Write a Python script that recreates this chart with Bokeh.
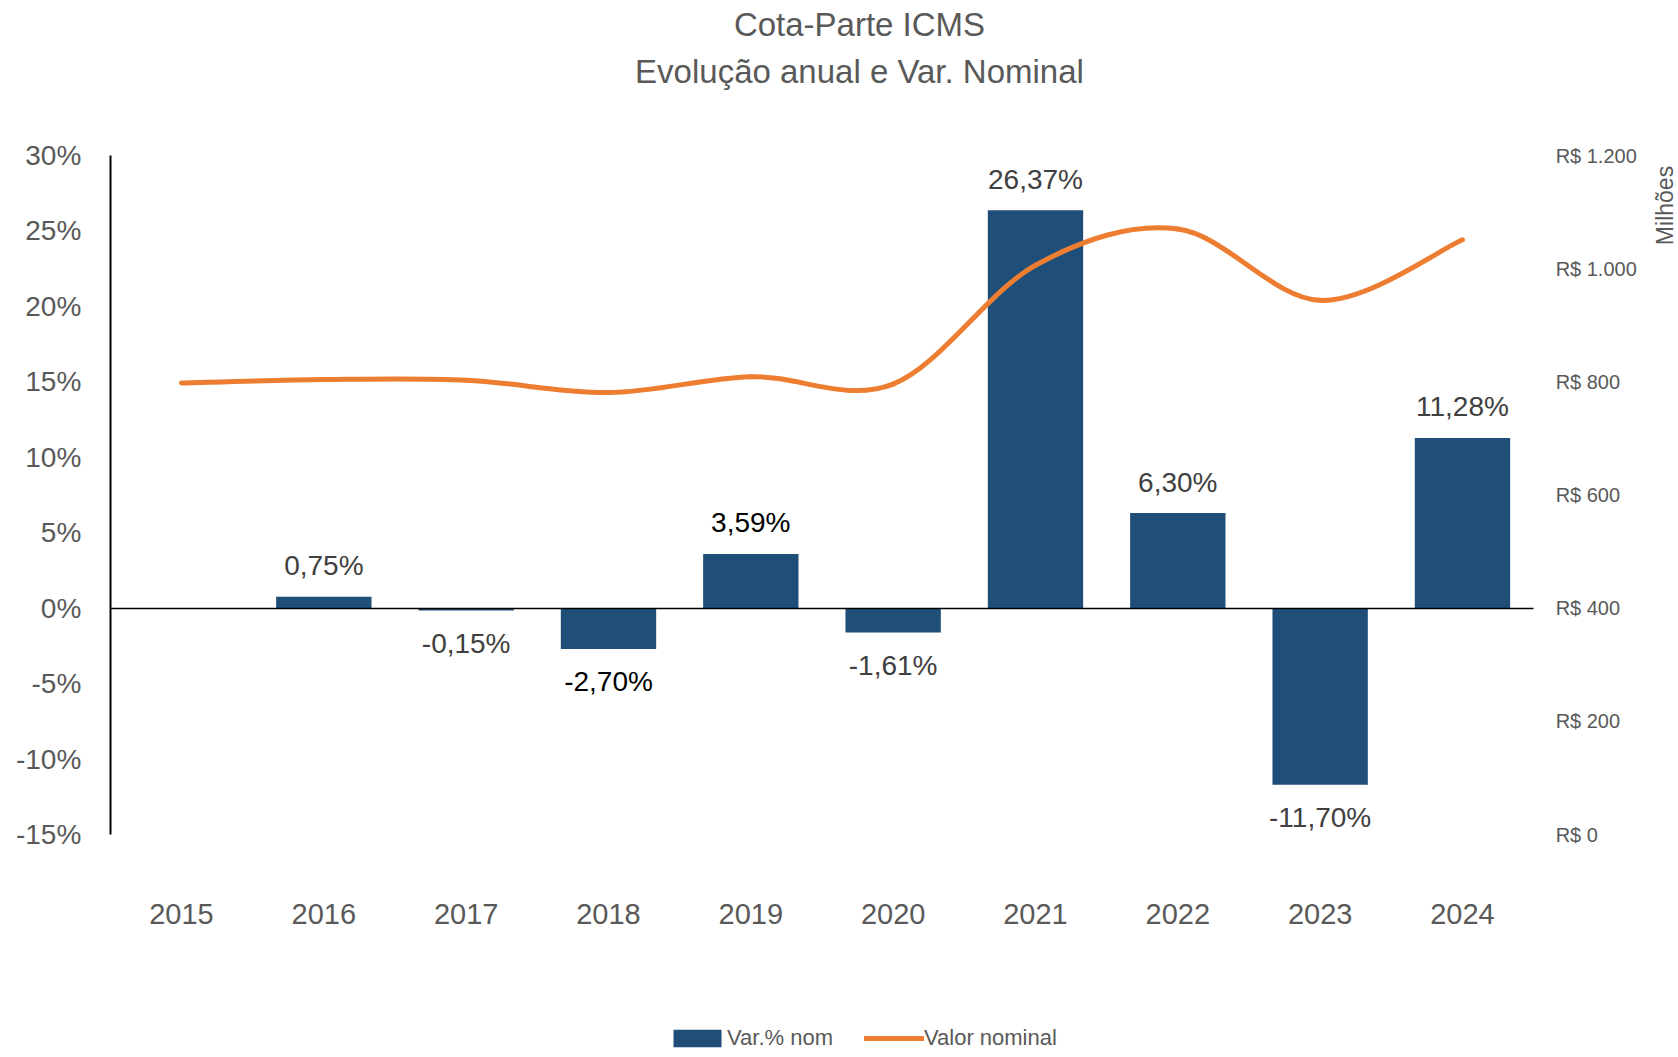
import math
from bokeh.plotting import figure
from bokeh.models import (Range1d, LinearAxis, FixedTicker, Label, Legend,
                          LegendItem, ColumnDataSource)
from bokeh.embed import file_html
from bokeh.resources import INLINE
from bokeh.core.properties import value

# ---------------- data ----------------
years = ["2015", "2016", "2017", "2018", "2019", "2020", "2021", "2022", "2023", "2024"]
var_years = ["2016", "2017", "2018", "2019", "2020", "2021", "2022", "2023", "2024"]
var_pct = [0.75, -0.15, -2.70, 3.59, -1.61, 26.37, 6.30, -11.70, 11.28]
valor_nominal = [798, 804, 803, 781, 809, 796, 1006, 1070, 944, 1051]  # R$ milhões

pct_ticks = [-15, -10, -5, 0, 5, 10, 15, 20, 25, 30]
pct_tick_labels = ["-15%", "-10%", "-5%", "0%", "5%", "10%", "15%", "20%", "25%", "30%"]
val_ticks = [0, 200, 400, 600, 800, 1000, 1200]
val_tick_labels = ["R$ 0", "R$ 200", "R$ 400", "R$ 600", "R$ 800", "R$ 1.000", "R$ 1.200"]

title_1 = "Cota-Parte ICMS"
title_2 = "Evolução anual e Var. Nominal"
right_axis_title = "Milhões"
bar_name = "Var.% nom"
line_name = "Valor nominal"

# ---------------- styles / layout ----------------
FONT = "Liberation Sans"
GRAY = "#595959"
BAR_COLOR = "#1F4E79"
LINE_COLOR = "#ED7D31"
label_colors = ["#404040", "#404040", "#000000", "#000000", "#404040",
                "#404040", "#404040", "#404040", "#404040"]

W, H = 1676, 1054
X0_PX, X_UNIT_PX = 181.0, 142.33      # pixel of first category, px per category
Y_TOP_PX, Y_BOT_PX = 155.0, 834.0     # pixel of top / bottom of the value axes

pmin, pmax = pct_ticks[0], pct_ticks[-1]
vmin, vmax = val_ticks[0], val_ticks[-1]
Y_UNIT_PX = (Y_BOT_PX - Y_TOP_PX) / (pmax - pmin)


def xd(px):
    return (px - X0_PX) / X_UNIT_PX


def yd(py):
    return pmax - (py - Y_TOP_PX) / Y_UNIT_PX


def to_val(pct):
    return vmin + (pct - pmin) * (vmax - vmin) / (pmax - pmin)


x_lo, x_hi = xd(0), xd(W)
y_lo, y_hi = yd(H), yd(0)
n = len(years)
x_left_edge, x_right_edge = -0.5, n - 0.5

p = figure(width=W, height=H, output_backend="svg", toolbar_location=None,
           x_range=Range1d(x_lo, x_hi), y_range=Range1d(y_lo, y_hi),
           x_axis_location=None, y_axis_location=None,
           min_border=0, min_border_left=0, min_border_right=0,
           min_border_top=0, min_border_bottom=0)
p.title.visible = False
p.outline_line_color = None
p.xgrid.visible = False
p.ygrid.visible = False
p.background_fill_color = "white"
p.border_fill_color = "white"
p.extra_y_ranges = {"val": Range1d(to_val(y_lo), to_val(y_hi))}

# x axis (category labels) at bottom of value range
xa = LinearAxis(fixed_location=pmin, bounds=(x_left_edge, x_right_edge),
                ticker=FixedTicker(ticks=list(range(n))))
xa.major_label_overrides = {i: y for i, y in enumerate(years)}
xa.axis_line_color = None
xa.major_tick_line_color = None
xa.minor_tick_line_color = None
xa.major_label_standoff = 63
xa.major_label_text_font = FONT
xa.major_label_text_font_size = "29px"
xa.major_label_text_color = GRAY
p.add_layout(xa, "below")

# zero baseline
za = LinearAxis(fixed_location=0, bounds=(x_left_edge, x_right_edge),
                ticker=FixedTicker(ticks=[]))
za.axis_line_color = "black"
za.axis_line_width = 1.5
za.major_tick_line_color = None
za.minor_tick_line_color = None
za.major_label_text_alpha = 0
p.add_layout(za, "below")

# left axis
ya = LinearAxis(fixed_location=x_left_edge, bounds=(pmin, pmax),
                ticker=FixedTicker(ticks=pct_ticks))
ya.major_label_overrides = {t: l for t, l in zip(pct_ticks, pct_tick_labels)}
ya.axis_line_color = "black"
ya.axis_line_width = 2
ya.major_tick_line_color = None
ya.minor_tick_line_color = None
ya.major_label_standoff = 23
ya.major_label_text_font = FONT
ya.major_label_text_font_size = "28px"
ya.major_label_text_color = GRAY
p.add_layout(ya, "left")

# right axis
ra = LinearAxis(y_range_name="val", fixed_location=x_right_edge, bounds=(vmin, vmax),
                ticker=FixedTicker(ticks=val_ticks))
ra.major_label_overrides = {t: l for t, l in zip(val_ticks, val_tick_labels)}
ra.axis_line_color = None
ra.major_tick_line_color = None
ra.minor_tick_line_color = None
ra.major_label_standoff = 16
ra.major_label_text_font = FONT
ra.major_label_text_font_size = "20px"
ra.major_label_text_color = GRAY
p.add_layout(ra, "right")

# bars
xpos = {y: i for i, y in enumerate(years)}
bar_src = ColumnDataSource(dict(x=[xpos[y] for y in var_years], top=var_pct))
bars = p.vbar(x="x", top="top", bottom=0, width=0.67, source=bar_src,
              fill_color=BAR_COLOR, line_color=None)

# smoothed line (Catmull-Rom bezier segments through the data points)
xs = [xpos[y] for y in years]
seg = dict(x0=[], y0=[], x1=[], y1=[], cx0=[], cy0=[], cx1=[], cy1=[])
for i in range(n - 1):
    im, ip = max(i - 1, 0), min(i + 2, n - 1)
    seg["x0"].append(xs[i]); seg["y0"].append(valor_nominal[i])
    seg["x1"].append(xs[i + 1]); seg["y1"].append(valor_nominal[i + 1])
    seg["cx0"].append(xs[i] + (xs[i + 1] - xs[im]) / 6)
    seg["cy0"].append(valor_nominal[i] + (valor_nominal[i + 1] - valor_nominal[im]) / 6)
    seg["cx1"].append(xs[i + 1] - (xs[ip] - xs[i]) / 6)
    seg["cy1"].append(valor_nominal[i + 1] - (valor_nominal[ip] - valor_nominal[i]) / 6)
line = p.bezier(x0="x0", y0="y0", x1="x1", y1="y1", cx0="cx0", cy0="cy0",
                cx1="cx1", cy1="cy1", source=ColumnDataSource(seg),
                y_range_name="val", line_color=LINE_COLOR, line_width=5,
                line_cap="round", line_join="round")

# data labels
lab_src = ColumnDataSource(dict(
    x=[xpos[y] for y in var_years],
    y=var_pct,
    text=[f"{v:.2f}%".replace(".", ",") for v in var_pct],
    off=[-31 if v >= 0 else 33 for v in var_pct],
    color=label_colors,
))
p.text(x="x", y="y", text="text", y_offset="off", source=lab_src,
       text_align="center", text_baseline="middle",
       text_font=value(FONT), text_font_size="28px", text_color="color")

# titles
for txt, py in ((title_1, 24), (title_2, 71)):
    p.add_layout(Label(x=xd(859), y=yd(py), text=txt,
                       text_align="center", text_baseline="middle",
                       text_font=FONT, text_font_size="33px", text_color=GRAY))

p.add_layout(Label(x=xd(1664), y=yd(205), text=right_axis_title, angle=math.pi / 2,
                   text_align="center", text_baseline="middle",
                   text_font=FONT, text_font_size="23px", text_color=GRAY))

# legend
legend = Legend(items=[LegendItem(label=bar_name, renderers=[bars]),
                       LegendItem(label=line_name, renderers=[line])],
                location=(667, 3), orientation="horizontal",
                padding=0, margin=0, spacing=31, label_standoff=0,
                glyph_width=60, glyph_height=22,
                border_line_color=None, background_fill_alpha=0,
                label_text_font=FONT, label_text_font_size="22px",
                label_text_color=GRAY)
p.add_layout(legend)

open("out.html", "w").write(file_html(p, INLINE))
